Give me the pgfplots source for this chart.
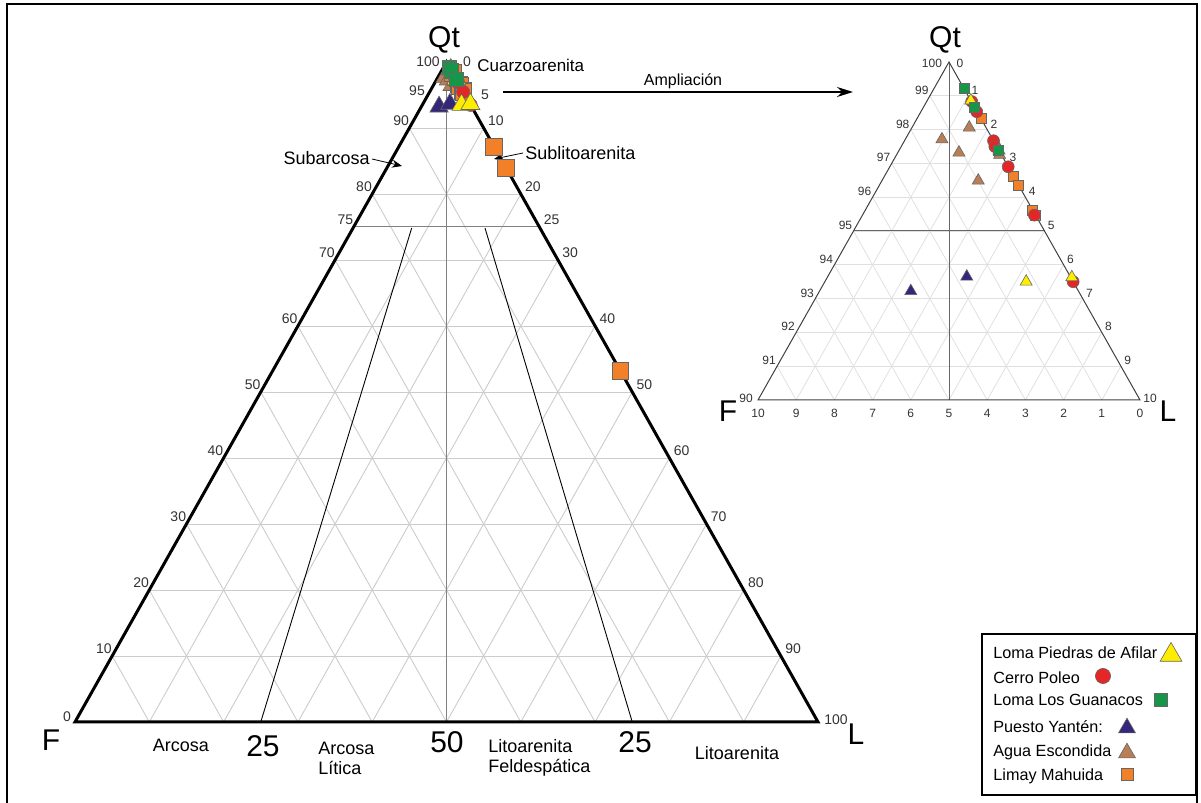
\documentclass[border=0pt]{standalone}
\usepackage{pgfplots}
\pgfplotsset{compat=1.18}
\usepackage{pgfplotstable}
\usepackage{fontspec}
\setmainfont{Liberation Sans}
\usetikzlibrary{arrows.meta}

\definecolor{cyel}{RGB}{255,237,0}
\definecolor{cred}{RGB}{228,38,38}
\definecolor{cgrn}{RGB}{22,150,72}
\definecolor{cpur}{RGB}{52,38,120}
\definecolor{cbrn}{RGB}{183,126,88}
\definecolor{corg}{RGB}{242,128,40}

% Qt and L in percent (F = 100 - Qt - L)
\pgfplotstableread{
Qt L
98.86 1.14
97.38 2.62
93.50 5.27
93.63 6.40
}\tyel
\pgfplotstableread{
Qt L
98.83 1.18
98.53 1.46
97.67 2.33
97.50 2.45
96.90 3.10
95.47 4.50
93.50 6.50
}\tred
\pgfplotstableread{
Qt L
99.22 0.78
98.66 1.34
97.40 2.60
}\tgrn
\pgfplotstableread{
Qt L
93.22 2.39
93.65 3.64
}\tpur
\pgfplotstableread{
Qt L
98.06 1.50
97.71 0.96
97.32 1.60
96.49 2.52
97.25 2.70
}\tbrn
\pgfplotstableread{
Qt L
98.33 1.67
96.63 3.37
96.35 3.65
95.62 4.38
95.47 4.53
87.20 12.80
84.00 16.00
53.20 46.80
}\torg

\pgfplotsset{
  table/mainxy/.style={x expr={75+(\thisrow{L}+\thisrow{Qt}/2)*7.43}, y expr={81+\thisrow{Qt}*6.6}},
  table/insxy/.style={x expr={758+\thisrow{L}*38.2+(\thisrow{Qt}-90)*19.1}, y expr={403+(\thisrow{Qt}-90)*33.8}},
  insr/.style={restrict expr to domain={\thisrow{Qt}}{90:100}},
}

\newcommand\tickA{\fontsize{7}{8}\selectfont\color{black!80}}
\newcommand\tickB{\fontsize{6}{7}\selectfont\color{black!80}}
\newcommand\regA{\fontsize{9}{10}\selectfont}
\newcommand\bigA{\fontsize{15}{16}\selectfont}
\newcommand\legf{\fontsize{8.1}{9}\selectfont}

\begin{document}
\begin{tikzpicture}
\begin{scope}[x=0.5pt,y=0.5pt]
\useasboundingbox (0,0) rectangle (1201,803);
% outer frame
\draw[line width=1pt] (7,-5) -- (7,799) -- (1197,799) -- (1197,-5);

% ---------- main triangle grid ----------
\foreach \k in {10,20,...,90}{
  \draw[black!20, line width=0.45pt] ({75+(\k/2)*7.43},{81+\k*6.6}) -- ({75+(100-\k/2)*7.43},{81+\k*6.6});
  \draw[black!20, line width=0.45pt] ({75+\k*7.43},81) -- ({75+(\k+(100-\k)/2)*7.43},{81+(100-\k)*6.6});
  \draw[black!20, line width=0.45pt] ({75+(100-\k)*7.43},81) -- ({75+((100-\k)/2)*7.43},{81+(100-\k)*6.6});
}
\draw[black!50, line width=0.5pt] (353.6,576) -- (539.4,576);
\draw[black!50, line width=0.5pt] (446.5,741) -- (446.5,81);
\draw[black, line width=0.45pt] (411.7,575) -- (260.75,81);
\draw[black, line width=0.45pt] (485,575) -- (632.25,81);
\draw[black, line width=1.5pt] (75,81) -- (818,81) -- (446.5,741) -- cycle;

% main tick labels
\foreach \v in {10,20,30,40,50,60,70,75,80,90}{
  \node[anchor=south east, inner sep=0.5pt, font=\tickA] at ({75+\v/2*7.43+1},{81+\v*6.6+1}) {\v};
}
\node[font=\tickA] at (417,712) {95};
\node[font=\tickA] at (428,741) {100};
\node[font=\tickA] at (67,86) {0};
\foreach \v in {10,20,25,30,40,50,60,70,80,90}{
  \node[anchor=south west, inner sep=0.5pt, font=\tickA] at ({818-(100-\v)/2*7.43+3},{81+(100-\v)*6.6+1}) {\v};
}
\node[font=\tickA] at (485,708) {5};
\node[font=\tickA] at (467,741) {0};
\node[font=\tickA] at (836,83) {100};

% ---------- inset triangle grid ----------
\foreach \j in {1,...,9}{
  \draw[black!12, line width=0.4pt] ({758+\j*19.1},{403+\j*33.8}) -- ({758+(10-\j)*38.2+\j*19.1},{403+\j*33.8});
  \draw[black!12, line width=0.4pt] ({758+\j*38.2},403) -- ({758+\j*38.2+(10-\j)*19.1},{403+(10-\j)*33.8});
  \draw[black!12, line width=0.4pt] ({758+(10-\j)*38.2},403) -- ({758+(10-\j)*19.1},{403+(10-\j)*33.8});
}
\draw[black!60, line width=0.5pt] (853.5,572) -- (1044.5,572);
\draw[black!60, line width=0.5pt] (949,741) -- (949,403);
\draw[black!75, line width=0.5pt] (758,403) -- (1140,403) -- (949,741) -- cycle;

\foreach \j in {1,...,9}{
  \pgfmathtruncatemacro\lab{90+\j}
  \node[anchor=south east, inner sep=0.5pt, font=\tickB] at ({758+\j*19.1},{403+\j*33.8}) {\lab};
  \pgfmathtruncatemacro\labr{10-\j}
  \node[anchor=south west, inner sep=0.5pt, font=\tickB] at ({1140-\j*19.1+2},{403+\j*33.8}) {\labr};
}
\node[font=\tickB] at (746,405) {90};
\node[font=\tickB] at (932,740) {100};
\node[font=\tickB] at (960,740) {0};
\node[font=\tickB] at (1150,405) {10};
\foreach \v in {0,...,10}{
  \node[font=\tickB] at ({758+(10-\v)*38.2},390) {\v};
}

% ---------- corner labels ----------
\node[font=\bigA] at (444,763) {Qt};
\node[font=\bigA] at (51,63) {F};
\node[font=\bigA] at (856,69) {L};
\node[font=\bigA] at (945,763) {Qt};
\node[font=\bigA] at (728,392) {F};
\node[font=\bigA] at (1168,392) {L};

% ---------- region labels ----------
\node[anchor=west, inner sep=0pt, font=\fontsize{8.5}{9}\selectfont] at (477,738) {Cuarzoarenita};
\node[anchor=east, inner sep=0pt, font=\regA] at (370,645) {Subarcosa};
\draw[-{Stealth[length=5pt,width=4pt]}, line width=0.4pt] (372,644) -- (402,637);
\node[anchor=west, inner sep=0pt, font=\regA] at (525,650) {Sublitoarenita};
\draw[-{Stealth[length=5pt,width=4pt]}, line width=0.4pt] (523,650) -- (494,644);
\draw[-{Stealth[length=8pt,width=5pt]}, line width=0.7pt] (503,711) -- (853,711);
\node[font=\fontsize{8}{9}\selectfont] at (683,722) {Ampliación};

\node[font=\regA] at (181,58) {Arcosa};
\node[font=\bigA] at (263,57) {25};
\node[anchor=west, inner sep=0pt, align=left, font=\regA] at (318,45) {Arcosa\\Lítica};
\node[font=\bigA] at (447,61) {50};
\node[anchor=west, inner sep=0pt, align=left, font=\regA] at (488,45) {Litoarenita\\Feldespática};
\node[font=\bigA] at (635,61) {25};
\node[font=\regA] at (737,50) {Litoarenita};

% ---------- legend ----------
\draw[line width=1pt] (982,169) rectangle (1196,8);
\node[anchor=west, inner sep=0pt, font=\legf] at (993,150) {Loma Piedras de Afilar};
\node[anchor=west, inner sep=0pt, font=\legf] at (993,125) {Cerro Poleo};
\node[anchor=west, inner sep=0pt, font=\legf] at (993,103) {Loma Los Guanacos};
\node[anchor=west, inner sep=0pt, font=\legf] at (993,76) {Puesto Yantén:};
\node[anchor=west, inner sep=0pt, font=\legf] at (993,51) {Agua Escondida};
\node[anchor=west, inner sep=0pt, font=\legf] at (993,27) {Limay Mahuida};
\end{scope}

\begin{axis}[at={(0,0)}, anchor=south west, x=0.5pt, y=0.5pt,
  xmin=0, xmax=1201, ymin=0, ymax=803, hide axis, clip=false]
% main triangle
\addplot[only marks, mark=triangle*, mark size=5.3pt, mark options={fill=cbrn, draw=black!60, line width=0.3pt}] table[mainxy] {\tbrn};
\addplot[only marks, mark=square*, mark size=4.2pt, mark options={fill=corg, draw=black!60, line width=0.3pt}] table[mainxy] {\torg};
\addplot[only marks, mark=*, mark size=3.3pt, mark options={fill=cred, draw=black!60, line width=0.3pt}] table[mainxy] {\tred};
\addplot[only marks, mark=triangle*, mark size=5.3pt, mark options={fill=cpur, draw=black!60, line width=0.3pt}] table[mainxy] {\tpur};
\addplot[only marks, mark=triangle*, mark size=5.5pt, mark options={fill=cyel, draw=black!60, line width=0.3pt}] table[mainxy] {\tyel};
\addplot[only marks, mark=square*, mark size=3.6pt, mark options={fill=cgrn, draw=black!60, line width=0.3pt}] table[mainxy] {\tgrn};
% inset
\addplot[insr, only marks, mark=triangle*, mark size=3.5pt, mark options={fill=cbrn, draw=black!60, line width=0.3pt}] table[insxy] {\tbrn};
\addplot[insr, only marks, mark=square*, mark size=2.5pt, mark options={fill=corg, draw=black!60, line width=0.3pt}] table[insxy] {\torg};
\addplot[insr, only marks, mark=*, mark size=3pt, mark options={fill=cred, draw=black!60, line width=0.3pt}] table[insxy] {\tred};
\addplot[insr, only marks, mark=triangle*, mark size=3.5pt, mark options={fill=cpur, draw=black!60, line width=0.3pt}] table[insxy] {\tpur};
\addplot[insr, only marks, mark=triangle*, mark size=3.5pt, mark options={fill=cyel, draw=black!60, line width=0.3pt}] table[insxy] {\tyel};
\addplot[insr, only marks, mark=square*, mark size=2.5pt, mark options={fill=cgrn, draw=black!60, line width=0.3pt}] table[insxy] {\tgrn};
% legend symbols
\addplot[only marks, mark=triangle*, mark size=6.3pt, mark options={fill=cyel, draw=black!60, line width=0.3pt}] coordinates {(1171,148)};
\addplot[only marks, mark=*, mark size=3.8pt, mark options={fill=cred, draw=black!60, line width=0.3pt}] coordinates {(1103,127)};
\addplot[only marks, mark=square*, mark size=3.2pt, mark options={fill=cgrn, draw=black!60, line width=0.3pt}] coordinates {(1161,103)};
\addplot[only marks, mark=triangle*, mark size=4.9pt, mark options={fill=cpur, draw=black!60, line width=0.3pt}] coordinates {(1127,75)};
\addplot[only marks, mark=triangle*, mark size=4.9pt, mark options={fill=cbrn, draw=black!60, line width=0.3pt}] coordinates {(1127,50)};
\addplot[only marks, mark=square*, mark size=3pt, mark options={fill=corg, draw=black!60, line width=0.3pt}] coordinates {(1127,29)};
\end{axis}
\end{tikzpicture}
\end{document}
